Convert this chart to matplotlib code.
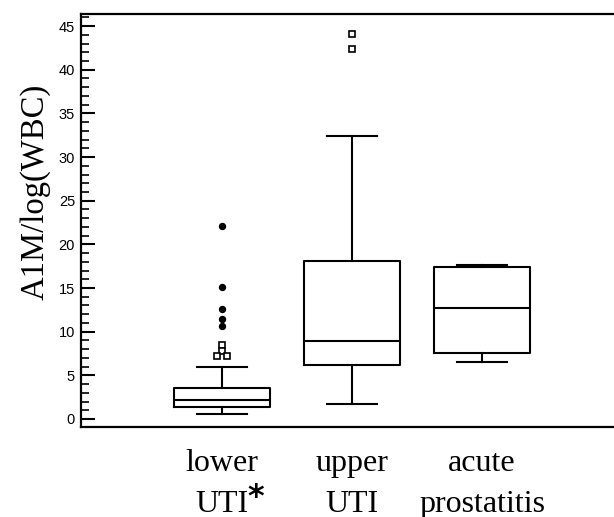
import matplotlib
matplotlib.use("Agg")
import matplotlib.pyplot as plt
from matplotlib.ticker import MultipleLocator

# Box statistics
groups = ["lower\nUTI", "upper\nUTI", "acute\nprostatitis"]
q1 = [1.41, 6.19, 7.53]
med = [2.18, 8.93, 12.75]
q3 = [3.59, 18.1, 17.45]
whis_lo = [0.54, 1.72, 6.56]
whis_hi = [5.92, 32.45, 17.64]

# outliers: (group index, value)
far_grp = [1, 1, 1, 1, 1]
far_val = [22.1, 15.15, 12.57, 11.45, 10.69]
near_grp = [1, 1, 1, 1, 2, 2]
near_val = [8.48, 7.79, 7.25, 7.25, 44.07, 42.35]
near_dx = [0.0, 0.0, -0.04, 0.04, 0.0, 0.0]

serif = "Liberation Serif"

fig = plt.figure(figsize=(6.14, 5.17), dpi=100)
ax = fig.add_axes([0.1319, 0.1747, 0.8681, 0.7973])

stats = []
for i in range(len(groups)):
    stats.append({"med": med[i], "q1": q1[i], "q3": q3[i],
                  "whislo": whis_lo[i], "whishi": whis_hi[i], "fliers": []})

lw = 1.5
ax.bxp(stats, positions=[1, 2, 3], widths=0.738, capwidths=0.385,
       showfliers=False,
       boxprops=dict(color="black", linewidth=lw),
       medianprops=dict(color="black", linewidth=lw),
       whiskerprops=dict(color="black", linewidth=lw),
       capprops=dict(color="black", linewidth=lw))

ax.plot(far_grp, far_val, "o", color="black", markersize=4.3, zorder=3)
ax.plot([g + d for g, d in zip(near_grp, near_dx)], near_val, "s",
        markerfacecolor="white", markeredgecolor="black", markersize=5,
        markeredgewidth=1.2, zorder=3)

ax.set_xlim(-0.0846, 4.015)
ax.set_ylim(-0.88, 46.33)

ax.yaxis.set_major_locator(MultipleLocator(5))
ax.yaxis.set_minor_locator(MultipleLocator(1))
ax.tick_params(axis="y", which="major", direction="in", length=10, width=1.5,
               pad=4.3, labelsize=10.5)
ax.tick_params(axis="y", which="minor", direction="in", length=6, width=1.2)
for lab in ax.get_yticklabels():
    lab.set_fontfamily("Liberation Sans")

ax.set_xticks([1, 2, 3])
ax.set_xticklabels(groups, fontfamily=serif, fontsize=23, linespacing=1.57)
ax.tick_params(axis="x", length=0, pad=16)

# asterisk after "lower UTI"
ax.text(1.26, -0.172, "*", transform=ax.get_xaxis_transform(),
        ha="center", va="center", fontsize=23, fontweight="bold",
        family="DejaVu Sans", clip_on=False)

ax.set_ylabel("A1M/log(WBC)", fontfamily=serif, fontsize=23.5, va="center")
ax.yaxis.set_label_coords(-0.0863, 0.569)

ax.spines["right"].set_visible(False)
for s in ["left", "top", "bottom"]:
    ax.spines[s].set_linewidth(1.6)

fig.savefig("out.png", dpi=100)
